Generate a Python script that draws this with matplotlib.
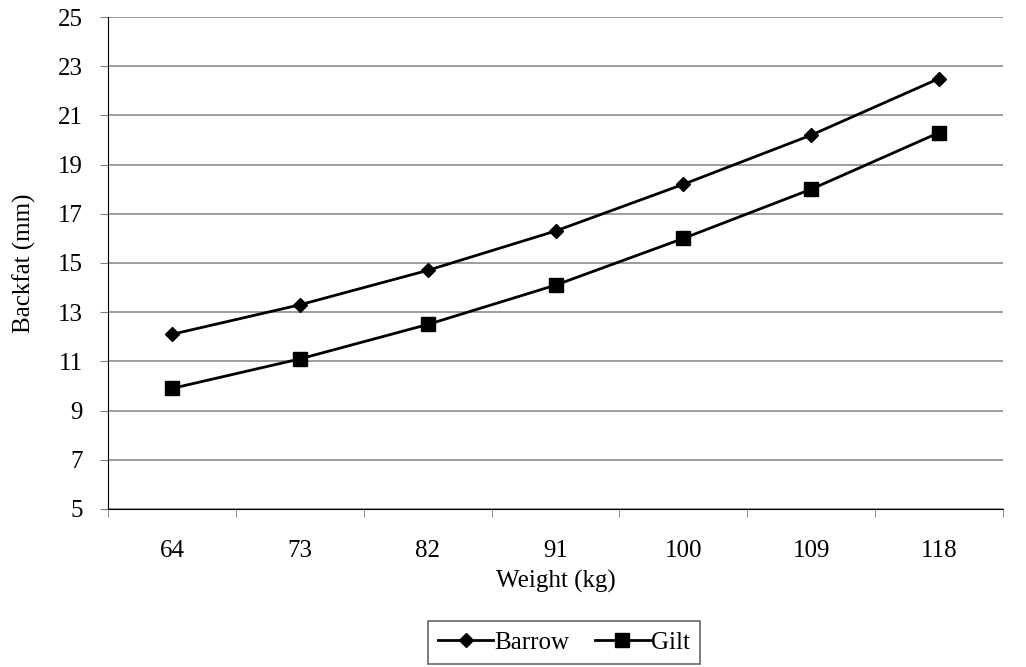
import numpy as np
import matplotlib.pyplot as plt

plt.rcParams['font.family'] = ['Liberation Serif', 'DejaVu Serif']

# dane z wykresu
weights = ['64', '73', '82', '91', '100', '109', '118']
barrow = [12.1, 13.3, 14.7, 16.3, 18.2, 20.2, 22.5]
gilt = [9.9, 11.1, 12.5, 14.1, 16.0, 18.0, 20.3]

fig = plt.figure(figsize=(10.26, 6.67), dpi=100)
ax = fig.add_axes([0.1053, 0.2369, 0.8723, 0.7376])

x = np.arange(len(weights))
ax.plot(x, barrow, color='black', lw=2, marker='D', markersize=7, label='Barrow')
ax.plot(x, gilt, color='black', lw=2, marker='s', markersize=10, label='Gilt')

ax.set_xlim(-0.5, len(weights) - 0.5)
ax.set_ylim(5, 25)
ax.set_yticks(np.arange(5, 26, 2))
ax.set_xticks(x)
ax.set_xticklabels(weights)
ax.set_xticks(np.arange(-0.5, len(weights)), minor=True)
ax.tick_params(axis='x', which='major', length=0, pad=22, labelsize=18)
ax.tick_params(axis='x', which='minor', length=6, color='#808080')
ax.tick_params(axis='y', length=6, color='#808080', labelsize=18, pad=12)

ax.grid(axis='y', color='#8c8c8c', lw=1.2)
ax.set_axisbelow(True)
for s in ['top', 'right']:
    ax.spines[s].set_visible(False)
ax.spines['left'].set_color('black')
ax.spines['bottom'].set_color('black')

ax.set_xlabel('Weight (kg)', fontsize=18, labelpad=6)
ax.set_ylabel('Backfat (mm)', fontsize=18, labelpad=16)

leg = fig.legend(loc='center', bbox_to_anchor=(0.5497, 0.037), ncol=2, fontsize=18,
                 frameon=True, fancybox=False, edgecolor='#404040',
                 handlelength=2.2, columnspacing=1.0, handletextpad=0.05,
                 borderpad=0.4)
leg.get_frame().set_linewidth(1.2)

plt.savefig('out.png', dpi=100)
